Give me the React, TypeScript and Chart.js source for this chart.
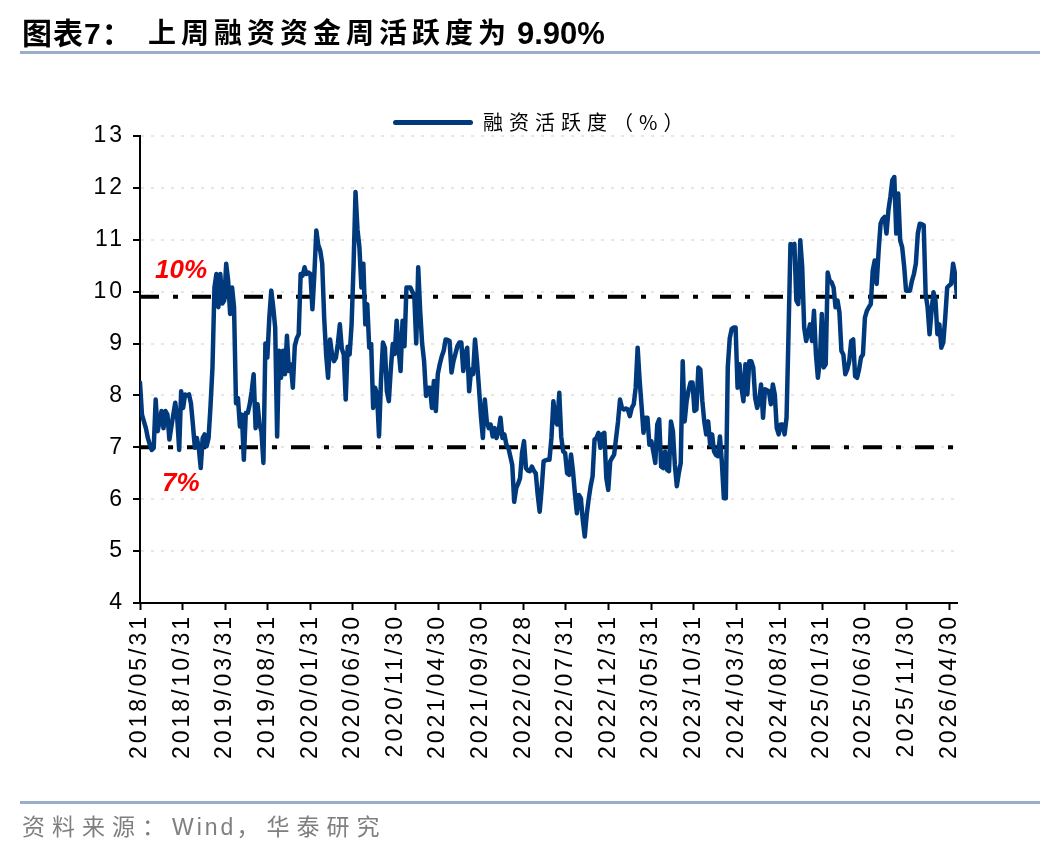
import React, { useEffect, useRef } from "react";
import { Chart, registerables } from "chart.js";

Chart.register(...registerables);

// 融资活跃度（%），周度数据，首个观测日 2018/05/31
const y2018 = [8.25, 7.63, 7.5, 7.37, 7.18, 7.05, 6.95, 6.99, 7.92, 7.31, 7.5, 7.7, 7.37, 7.7, 7.63, 7.15, 7.4, 7.63, 7.86, 7.57, 6.95, 8.08, 7.76, 8.02, 8.0, 8.02, 7.85, 7.44, 6.99, 7.18, 6.99];
const y2019 = [6.6, 7.18, 7.25, 7.02, 7.18, 7.8, 8.54, 10.08, 10.34, 9.7, 10.34, 9.77, 9.83, 10.54, 10.21, 9.57, 10.08, 9.7, 7.85, 7.95, 7.4, 7.63, 6.76, 7.66, 7.66, 7.83, 8.08, 8.41, 7.37, 7.83, 7.44, 7.3, 6.7, 9.0, 8.73, 9.5, 10.02, 9.7, 9.31, 7.21, 8.86, 8.34, 8.86, 8.41, 9.15, 8.47, 8.6, 8.15, 8.95, 9.1, 9.18, 10.34];
const y2020 = [10.31, 10.47, 10.34, 10.37, 10.34, 9.66, 10.34, 11.18, 10.9, 10.79, 10.54, 9.5, 8.79, 8.34, 9.08, 8.8, 8.66, 8.73, 9.0, 9.37, 8.9, 8.79, 7.92, 8.94, 8.79, 9.37, 10.5, 11.92, 11.2, 10.85, 10.08, 10.54, 9.37, 9.76, 8.92, 8.99, 7.76, 8.15, 8.02, 7.21, 8.28, 9.02, 8.92, 8.08, 7.89, 8.5, 8.99, 8.8, 9.44, 8.9, 8.47, 9.44, 8.95];
const y2021 = [10.08, 10.08, 10.08, 10.0, 9.92, 9.0, 10.47, 9.63, 9.0, 8.66, 7.99, 8.15, 8.15, 7.76, 8.28, 7.7, 8.41, 8.6, 8.75, 8.86, 9.08, 9.07, 9.05, 8.44, 8.66, 8.8, 8.95, 9.02, 9.02, 8.47, 8.8, 8.92, 8.08, 8.5, 8.41, 9.08, 8.66, 8.15, 7.6, 7.18, 7.92, 7.5, 7.37, 7.44, 7.21, 7.37, 7.18, 7.31, 7.57, 7.18, 7.25, 7.05];
const y2022 = [6.99, 6.83, 6.66, 5.95, 6.21, 6.3, 6.41, 6.9, 7.12, 6.6, 6.55, 6.54, 6.63, 6.55, 6.5, 6.08, 5.76, 6.2, 6.73, 6.75, 6.76, 6.76, 7.18, 7.89, 7.5, 7.44, 8.05, 7.2, 6.92, 6.89, 6.5, 6.47, 6.86, 6.54, 6.1, 5.73, 6.08, 6.02, 5.6, 5.28, 5.7, 6.0, 6.25, 6.44, 7.15, 7.18, 7.28, 6.99, 7.25, 7.28, 6.41, 6.18];
const y2023 = [6.73, 6.8, 6.86, 7.18, 7.5, 7.92, 7.76, 7.73, 7.75, 7.73, 7.6, 7.76, 7.83, 8.15, 8.92, 8.3, 7.8, 7.28, 7.57, 7.57, 7.05, 7.12, 6.92, 6.7, 7.44, 7.54, 6.63, 6.6, 6.92, 6.57, 6.54, 7.5, 7.31, 6.66, 6.25, 6.5, 6.7, 8.66, 7.5, 7.89, 8.1, 8.25, 8.25, 7.7, 7.73, 8.54, 8.5, 7.9, 7.5, 7.25, 7.5, 7.05];
const y2024 = [7.25, 6.92, 6.85, 6.83, 7.21, 6.7, 6.02, 6.02, 8.54, 9.1, 9.28, 9.31, 9.31, 8.15, 8.6, 8.15, 7.89, 8.6, 8.02, 8.66, 8.66, 8.54, 7.95, 7.76, 7.89, 8.21, 7.57, 8.12, 8.1, 8.08, 7.83, 8.21, 8.02, 7.37, 7.25, 7.44, 7.44, 7.25, 7.57, 9.18, 10.92, 10.9, 10.92, 9.83, 9.76, 10.99, 10.47, 9.31, 9.05, 9.2, 9.37, 9.05];
const y2025 = [9.63, 8.79, 8.34, 8.66, 9.57, 8.54, 8.6, 10.37, 10.21, 10.18, 10.08, 9.7, 9.83, 9.6, 8.86, 8.79, 8.41, 8.5, 8.66, 9.05, 9.08, 8.37, 8.34, 8.5, 8.73, 8.79, 9.5, 9.63, 9.7, 9.76, 10.41, 10.6, 10.15, 10.79, 11.31, 11.4, 11.44, 11.12, 11.57, 11.83, 12.15, 12.21, 11.12, 11.89, 10.99, 10.86, 10.5, 10.02, 10.02, 10.02, 10.21, 10.34];
const y2026 = [10.54, 11.12, 11.31, 11.3, 11.28, 9.95, 9.7, 9.18, 9.63, 9.99, 9.83, 9.18, 9.37, 8.92, 9.02, 9.5, 10.08, 10.12, 10.15, 10.54, 10.34, 9.9];

const activity = [...y2018, ...y2019, ...y2020, ...y2021, ...y2022, ...y2023, ...y2024, ...y2025, ...y2026];

// 横轴刻度（每 5 个月）
const tickLabels = [
  "2018/05/31", "2018/10/31", "2019/03/31", "2019/08/31", "2020/01/31",
  "2020/06/30", "2020/11/30", "2021/04/30", "2021/09/30", "2022/02/28",
  "2022/07/31", "2022/12/31", "2023/05/31", "2023/10/31", "2024/03/31",
  "2024/08/31", "2025/01/31", "2025/06/30", "2025/11/30", "2026/04/30",
];

const Y_MIN = 4;
const Y_MAX = 13;
const Y_STEP = 1;

// 参考线：最新值与 7% 下沿
const levelLatest = activity[activity.length - 1];
const levelLow = 7;
const levelTags = ["10%", "7%"];

const TITLE_HEAD = "图表7：";
const TITLE_BODY = "上周融资资金周活跃度为";
const TITLE_VALUE = `${levelLatest.toFixed(2)}%`;
const SERIES_NAME = "融资活跃度（%）";

const NAVY = "#003a7d";
const RULE = "#98aec9";
const DAY = 86400000;
const FIRST_DATE = "2018/05/31";

const parseDate = (s: string) => {
  const [y, m, d] = s.split("/").map(Number);
  return Date.UTC(y, m - 1, d);
};
const pad2 = (n: number) => String(n).padStart(2, "0");
const formatDate = (t: number) => {
  const d = new Date(t);
  return `${d.getUTCFullYear()}/${pad2(d.getUTCMonth() + 1)}/${pad2(d.getUTCDate())}`;
};

const start = parseDate(FIRST_DATE);
const points = activity.map((v, i) => ({ x: start + i * 7 * DAY, y: v }));
const xFirst = points[0].x;
const xLast = points[points.length - 1].x;
const tickValues = tickLabels.map(parseDate);

const TICK_FONT = { family: "'Liberation Sans', Arial, sans-serif", size: 23 };

const decorPlugin = {
  id: "decor",
  beforeDraw(chart: any) {
    (chart.ctx as any).letterSpacing = "3px";
  },
  afterDraw(chart: any) {
    const ctx = chart.ctx as any;
    ctx.letterSpacing = "0px";
    const y = chart.scales.y;
    const left = chart.chartArea.left;
    ctx.save();
    ctx.fillStyle = "#ff0000";
    ctx.font = "italic bold 26px 'Liberation Sans', Arial, sans-serif";
    ctx.textAlign = "left";
    ctx.textBaseline = "alphabetic";
    ctx.fillText(levelTags[0], left + 15, y.getPixelForValue(levelLatest) - 19);
    ctx.fillText(levelTags[1], left + 22, y.getPixelForValue(levelLow) + 44);
    ctx.restore();
  },
};

function ActivityChart() {
  const ref = useRef<HTMLCanvasElement | null>(null);

  useEffect(() => {
    if (!ref.current) return;
    const chart = new Chart(ref.current, {
      type: "line",
      data: {
        datasets: [
          {
            label: SERIES_NAME,
            data: points,
            borderColor: NAVY,
            backgroundColor: NAVY,
            borderWidth: 4.5,
            pointRadius: 0,
            tension: 0,
            borderJoinStyle: "round",
            borderCapStyle: "round",
            order: 0,
          },
          {
            label: "latest",
            data: [
              { x: xFirst, y: levelLatest },
              { x: xLast, y: levelLatest },
            ],
            borderColor: "#000000",
            borderWidth: 4,
            borderDash: [19, 14, 5, 14],
            pointRadius: 0,
            order: 1,
          },
          {
            label: "low",
            data: [
              { x: xFirst, y: levelLow },
              { x: xLast, y: levelLow },
            ],
            borderColor: "#000000",
            borderWidth: 4,
            borderDash: [19, 14, 5, 14],
            borderDashOffset: 5,
            pointRadius: 0,
            order: 1,
          },
        ],
      },
      options: {
        animation: false,
        responsive: false,
        devicePixelRatio: 1,
        layout: { padding: { left: 0, top: 136, right: 1048 - 957, bottom: 0 } },
        plugins: {
          legend: { display: false },
          title: { display: false },
          tooltip: { enabled: false },
        },
        scales: {
          x: {
            type: "linear",
            min: xFirst,
            max: xLast,
            afterBuildTicks: (scale: any) => {
              scale.ticks = tickValues.map((value) => ({ value }));
            },
            afterFit: (scale: any) => {
              scale.height = 852 - 603;
            },
            ticks: {
              autoSkip: false,
              minRotation: 90,
              maxRotation: 90,
              padding: 4,
              color: "#000000",
              font: TICK_FONT,
              callback: (value: any) => formatDate(Number(value)),
            },
            grid: {
              drawOnChartArea: false,
              drawTicks: true,
              tickLength: 7,
              tickWidth: 2,
              tickColor: "#000000",
            },
            border: { display: true, color: "#000000", width: 2 },
          },
          y: {
            min: Y_MIN,
            max: Y_MAX,
            afterFit: (scale: any) => {
              scale.width = 140;
            },
            ticks: {
              stepSize: Y_STEP,
              padding: 8,
              color: "#000000",
              font: TICK_FONT,
            },
            grid: {
              color: "#e6e6e6",
              lineWidth: 2,
              drawTicks: true,
              tickLength: 7,
              tickWidth: 2,
              tickColor: "#000000",
              tickBorderDash: [],
            },
            border: { display: true, color: "#000000", width: 2, dash: [3, 7] },
          },
        },
      },
      plugins: [decorPlugin],
    } as any);
    return () => chart.destroy();
  }, []);

  return (
    <canvas
      ref={ref}
      width={1048}
      height={852}
      style={{ position: "absolute", left: 0, top: 0, width: 1048, height: 852 }}
    />
  );
}

const cjk = "'Liberation Sans', 'Noto Sans CJK SC', sans-serif";

export default function App() {
  return (
    <div
      style={{
        position: "absolute",
        left: 0,
        top: 0,
        width: 1048,
        height: 852,
        background: "#ffffff",
        overflow: "hidden",
        fontFamily: cjk,
      }}
    >
      <ActivityChart />
      <div
        style={{
          position: "absolute",
          left: 22,
          top: 18,
          fontSize: 30,
          lineHeight: "32px",
          fontWeight: 700,
          letterSpacing: 1,
          whiteSpace: "nowrap",
        }}
      >
        {TITLE_HEAD}
      </div>
      <div
        style={{
          position: "absolute",
          left: 148,
          top: 19,
          fontSize: 28,
          lineHeight: "30px",
          fontWeight: 700,
          letterSpacing: 5,
          whiteSpace: "nowrap",
        }}
      >
        {TITLE_BODY}
      </div>
      <div
        style={{
          position: "absolute",
          left: 517,
          top: 18,
          fontSize: 31,
          lineHeight: "32px",
          fontWeight: 700,
          whiteSpace: "nowrap",
        }}
      >
        {TITLE_VALUE}
      </div>
      <div style={{ position: "absolute", left: 20, top: 51, width: 1020, height: 3, background: RULE }} />

      <div
        style={{
          position: "absolute",
          left: 393,
          top: 120,
          width: 80,
          height: 5,
          borderRadius: 3,
          background: NAVY,
        }}
      />
      <div
        style={{
          position: "absolute",
          left: 483,
          top: 110,
          fontSize: 20,
          lineHeight: "24px",
          letterSpacing: 6,
          whiteSpace: "nowrap",
          fontFamily: "'Noto Sans CJK SC', sans-serif",
        }}
      >
        {SERIES_NAME}
      </div>

      <div style={{ position: "absolute", left: 20, top: 801, width: 1020, height: 3, background: RULE }} />
      <div
        style={{
          position: "absolute",
          left: 22,
          top: 813,
          fontSize: 23,
          lineHeight: "28px",
          color: "#7f7f7f",
          whiteSpace: "nowrap",
        }}
      >
        <span style={{ letterSpacing: 7 }}>资料来源：</span>
        <span style={{ letterSpacing: 3 }}>Wind</span>
        <span style={{ letterSpacing: 7 }}>，华泰研究</span>
      </div>
    </div>
  );
}
